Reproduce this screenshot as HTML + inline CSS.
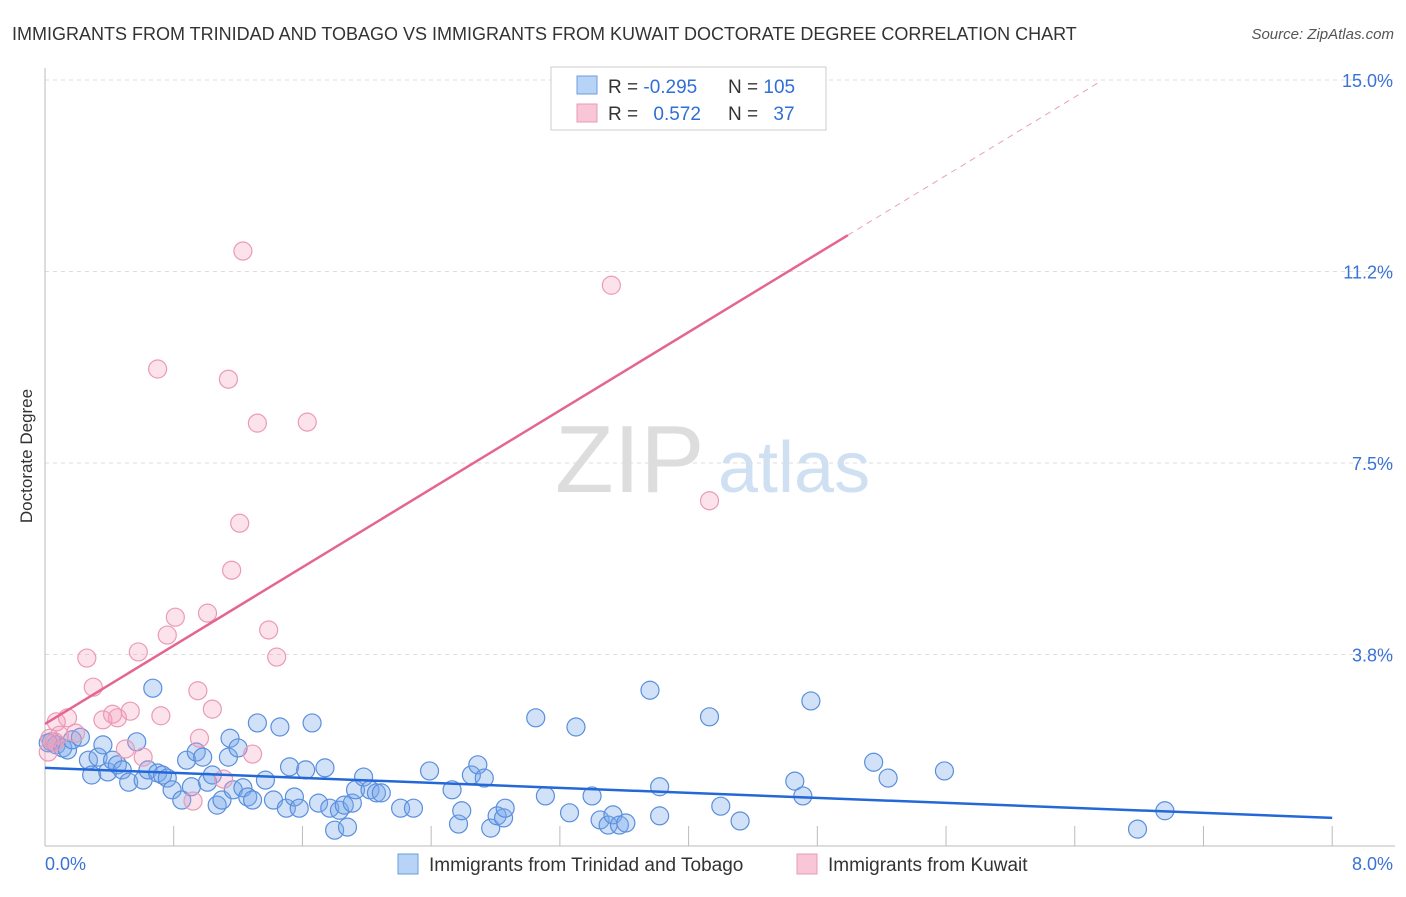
<!DOCTYPE html>
<html><head><meta charset="utf-8"><style>
body{margin:0;background:#fff;font-family:"Liberation Sans",sans-serif;}
svg text{font-family:"Liberation Sans",sans-serif;}
</style></head><body>
<svg width="1406" height="892">
<text x="12" y="40" font-size="18" fill="#333">IMMIGRANTS FROM TRINIDAD AND TOBAGO VS IMMIGRANTS FROM KUWAIT DOCTORATE DEGREE CORRELATION CHART</text>
<text x="1394" y="39" font-size="15" fill="#555" text-anchor="end" font-style="italic">Source: ZipAtlas.com</text>
<text x="32" y="456" font-size="17" fill="#333" text-anchor="middle" transform="rotate(-90 32 456)">Doctorate Degree</text>
<text x="555" y="492" font-size="96" fill="#ddd" font-family="Liberation Serif">ZIP</text>
<text x="718" y="492" font-size="72" fill="#cfe0f3">atlas</text>
<g id="grid"></g><g id="axes"></g><g id="marks"></g>
<g>
<rect x="551" y="67" width="275" height="63" fill="#fff" stroke="#ccc"/>
<rect x="577" y="76" width="20" height="18" fill="#b7d3f5" stroke="#6d9ee0"/>
<rect x="577" y="104" width="20" height="18" fill="#f8c6d6" stroke="#e99ab4"/>
<text x="608" y="93" font-size="19" fill="#333">R = <tspan fill="#2f6fd6">-0.295</tspan></text>
<text x="728" y="93" font-size="19" fill="#333">N = <tspan fill="#2f6fd6">105</tspan></text>
<text x="608" y="120" font-size="19" fill="#333">R = <tspan fill="#2f6fd6" dx="10">0.572</tspan></text>
<text x="728" y="120" font-size="19" fill="#333">N = <tspan fill="#2f6fd6" dx="10">37</tspan></text>
</g>
<g>
<rect x="398" y="854" width="20" height="20" fill="#b7d3f5" stroke="#6d9ee0"/>
<text x="429" y="871" font-size="19" fill="#333">Immigrants from Trinidad and Tobago</text>
<rect x="797" y="854" width="20" height="20" fill="#f8c6d6" stroke="#e99ab4"/>
<text x="828" y="871" font-size="19" fill="#333">Immigrants from Kuwait</text>
</g>
</svg>
<script>
const blueX=[0.04,0.07,0.11,0.14,0.17,0.22,0.27,0.29,0.33,0.36,0.39,0.42,0.45,0.48,0.52,0.57,0.61,0.64,0.67,0.70,0.73,0.76,0.79,0.85,0.88,0.91,0.94,0.98,1.01,1.04,1.07,1.10,1.14,1.15,1.17,1.20,1.23,1.26,1.29,1.32,1.37,1.42,1.46,1.50,1.52,1.55,1.58,1.62,1.66,1.70,1.74,1.77,1.80,1.83,1.86,1.88,1.91,1.93,1.98,2.02,2.06,2.09,2.21,2.29,2.39,2.53,2.57,2.59,2.65,2.69,2.73,2.77,2.81,2.85,2.86,3.05,3.11,3.26,3.30,3.40,3.45,3.50,3.53,3.57,3.61,3.76,3.82,3.82,4.13,4.20,4.32,4.66,4.71,4.76,5.15,5.24,5.59,6.79,6.96,0.02];
const blueY=[2.04,1.98,1.92,1.88,2.08,2.13,1.68,1.39,1.74,1.98,1.45,1.68,1.59,1.49,1.25,2.04,1.29,1.49,3.09,1.43,1.39,1.33,1.10,0.90,1.68,1.16,1.84,1.74,1.25,1.39,0.80,0.90,1.74,2.11,1.10,1.92,1.14,0.96,0.90,2.41,1.29,0.90,2.33,0.74,1.55,0.96,0.74,1.49,2.41,0.84,1.53,0.74,0.31,0.70,0.80,0.37,0.84,1.10,1.35,1.10,1.04,1.04,0.74,0.74,1.47,1.10,0.43,0.69,1.39,1.59,1.33,0.35,0.59,0.55,0.74,2.51,0.98,0.65,2.33,0.98,0.51,0.41,0.61,0.41,0.45,3.05,1.16,0.59,2.53,0.78,0.49,1.27,0.98,2.84,1.64,1.33,1.47,0.33,0.69,2.02];
const pinkX=[1.23,3.52,0.70,1.14,1.32,1.63,4.13,1.21,1.16,1.01,0.81,0.76,0.58,0.26,1.39,1.44,0.30,0.95,1.04,0.72,0.53,0.45,0.36,0.14,0.07,0.03,0.09,0.19,0.42,0.50,0.61,0.96,1.29,1.11,0.92,0.02,0.06];
const pinkY=[11.65,10.98,9.34,9.14,8.28,8.30,6.76,6.32,5.40,4.56,4.48,4.13,3.80,3.68,4.23,3.70,3.11,3.04,2.68,2.55,2.64,2.51,2.47,2.51,2.43,2.11,2.17,2.21,2.58,1.90,1.74,2.11,1.80,1.31,0.88,1.84,2.04];
const yTicks=[3.75,7.5,11.25,15];
const yTickLabels=["3.8%","7.5%","11.2%","15.0%"];
const blueTrend=[1.53,-0.1225];
const pinkTrend=[2.39,1.918];
const NS="http://www.w3.org/2000/svg";
const X=v=>45+v*160.9, Y=v=>846-v*51.07;
function mk(parent,tag,attrs){const e=document.createElementNS(NS,tag);for(const k in attrs)e.setAttribute(k,attrs[k]);document.getElementById(parent).appendChild(e);return e;}
yTicks.forEach((t,i)=>{
 const g=mk('grid','line',{x1:45,x2:1395,y1:Y(t),y2:Y(t),stroke:'#ddd','stroke-dasharray':'4,4'});
 
 
 const tx=mk('grid','text',{x:1393,y:Y(t)+7,'font-size':18,fill:'#3a72d6','text-anchor':'end'});
 tx.textContent=yTickLabels[i];
 
 
});
const ax=mk('axes','line',{x1:45,x2:45,y1:68,y2:846,stroke:'#bbb'});


const bx=mk('axes','line',{x1:45,x2:1395,y1:846,y2:846,stroke:'#bbb'});


for(let i=1;i<=10;i++){const t=mk('axes','line',{x1:X(i*0.8),x2:X(i*0.8),y1:826,y2:846,stroke:'#bbb'});
 
 }
const l0=mk('axes','text',{x:45,y:870,'font-size':18,fill:'#3a72d6'});l0.textContent='0.0%';


const l1=mk('axes','text',{x:1393,y:870,'font-size':18,fill:'#3a72d6','text-anchor':'end'});l1.textContent='8.0%';


blueX.forEach((x,i)=>{const c=mk('marks','circle',{cx:X(x),cy:Y(blueY[i]),r:9,fill:'rgba(120,170,235,0.35)',stroke:'#5b8fdc','stroke-width':1.2});
 
 });
pinkX.forEach((x,i)=>{const c=mk('marks','circle',{cx:X(x),cy:Y(pinkY[i]),r:9,fill:'rgba(245,160,190,0.3)',stroke:'#eb9ab6','stroke-width':1.2});
 
 });
const bl=mk('marks','line',{x1:X(0),y1:Y(blueTrend[0]),x2:X(8),y2:Y(blueTrend[0]+blueTrend[1]*8),stroke:'#2468d8','stroke-width':2.5});


const pe=4.99, pd=6.56;
const pl=mk('marks','line',{x1:X(0),y1:Y(pinkTrend[0]),x2:X(pe),y2:Y(pinkTrend[0]+pinkTrend[1]*pe),stroke:'#e4658f','stroke-width':2.5});


const pdl=mk('marks','line',{x1:X(pe),y1:Y(pinkTrend[0]+pinkTrend[1]*pe),x2:X(pd),y2:Y(pinkTrend[0]+pinkTrend[1]*pd),stroke:'#eba0b8','stroke-width':1,'stroke-dasharray':'6,5'});


</script>
</body></html>
